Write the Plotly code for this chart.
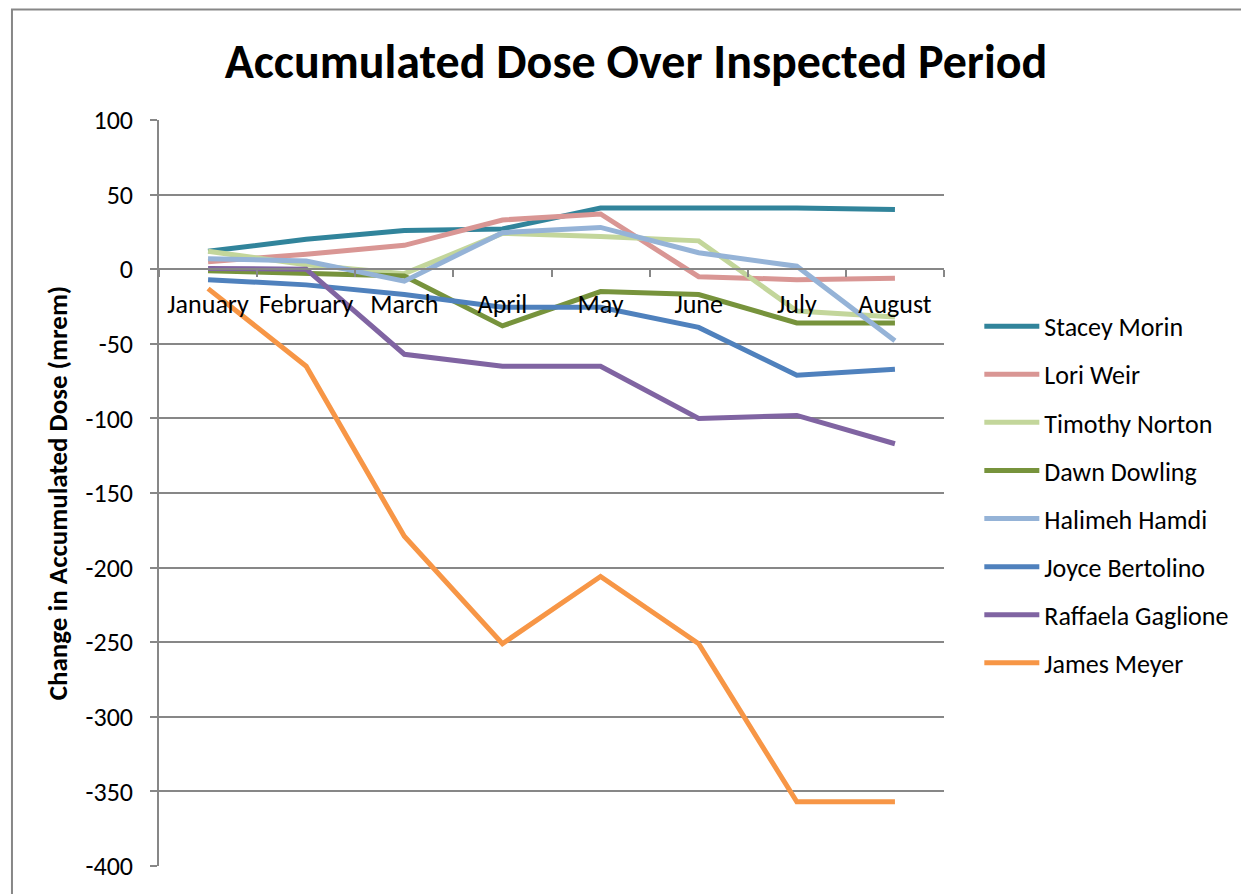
import plotly.graph_objects as go

months = ["January", "February", "March", "April", "May", "June", "July", "August"]

stacey_morin = [12, 20, 26, 27, 41, 41, 41, 40]
lori_weir = [5, 10, 16, 33, 37, -5, -7, -6]
timothy_norton = [12, 3, -3, 24, 22, 19, -28, -32]
dawn_dowling = [-1, -3, -4.5, -38, -15, -17, -36, -36]
halimeh_hamdi = [7, 5.5, -8, 24.5, 28, 11, 2, -48]
joyce_bertolino = [-7, -10.5, -17, -25.5, -25.5, -39, -71, -67]
raffaela_gaglione = [0.5, 0, -57, -65, -65, -100, -98, -117]
james_meyer = [-13, -65, -179, -251, -206, -251, -357, -357]

series_names = ["Stacey Morin", "Lori Weir", "Timothy Norton", "Dawn Dowling",
                "Halimeh Hamdi", "Joyce Bertolino", "Raffaela Gaglione", "James Meyer"]
series_values = [stacey_morin, lori_weir, timothy_norton, dawn_dowling,
                 halimeh_hamdi, joyce_bertolino, raffaela_gaglione, james_meyer]
series_colors = ["#31849B", "#D99694", "#C3D69B", "#77933C",
                 "#95B3D7", "#4F81BD", "#8064A2", "#F79646"]

y_ticks = [100, 50, 0, -50, -100, -150, -200, -250, -300, -350, -400]

fig = go.Figure()
for name, vals, col in zip(series_names, series_values, series_colors):
    fig.add_trace(go.Scatter(
        x=months, y=vals, mode="lines", name=name, legendgroup=name,
        line=dict(color=col, width=5),
    ))

font_family = "Carlito, Calibri, Lato, 'Open Sans', sans-serif"
grid_col = "#878787"

fig.update_layout(
    width=1241, height=886,
    margin=dict(l=151, r=305, t=112, b=24),
    paper_bgcolor="white", plot_bgcolor="white",
    font=dict(family=font_family, size=26, color="black"),
    title=dict(text="<b>Accumulated Dose Over Inspected Period</b>",
               x=0.506, xanchor="center", y=0.940, yanchor="middle",
               font=dict(size=48, family=font_family, color="black")),
    showlegend=True,
    legend=dict(x=1.045, xanchor="left", y=0.755, yanchor="top",
                tracegroupgap=11.3, traceorder="grouped", itemwidth=55,
                font=dict(size=26, family=font_family),
                bgcolor="rgba(0,0,0,0)"),
    xaxis=dict(
        type="category", categoryorder="array", categoryarray=months,
        range=[-0.5, 7.5], anchor="free", position=0.8,
        showline=True, linecolor=grid_col, linewidth=1.5,
        ticks="outside", ticklen=7, tickcolor=grid_col, tickwidth=1.5,
        tickson="boundaries", showgrid=False, zeroline=False,
        tickangle=0, ticklabelstandoff=12,
        tickfont=dict(size=26, family=font_family),
    ),
    yaxis=dict(
        range=[-400, 100], tickvals=y_ticks, ticktext=[str(v) for v in y_ticks],
        showline=True, linecolor=grid_col, linewidth=1.5,
        ticks="outside", ticklen=7, tickcolor=grid_col, tickwidth=1.5,
        showgrid=True, gridcolor=grid_col, gridwidth=1.5,
        zeroline=False,
        ticklabelstandoff=12,
        tickfont=dict(size=26, family=font_family),
        title=dict(text="<b>Change in Accumulated Dose (mrem)</b>",
                   font=dict(size=27, family=font_family), standoff=10),
    ),
)

fig.add_shape(type="rect", xref="paper", yref="paper",
              x0=-0.1873, x1=1.4, y0=-0.1, y1=1.148,
              line=dict(color=grid_col, width=2), layer="below")

fig.write_html("out.html")
